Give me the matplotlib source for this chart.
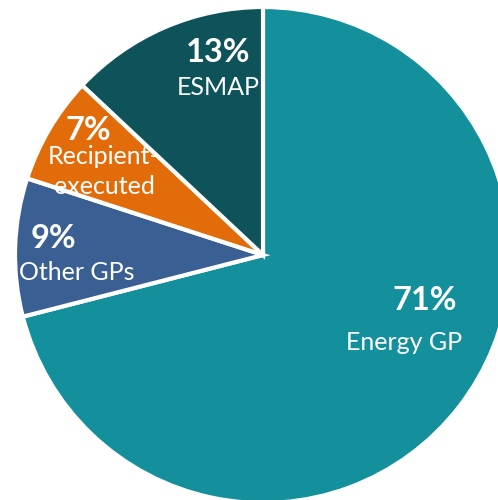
import matplotlib
matplotlib.use('Agg')
import matplotlib.pyplot as plt

# funding sources, clockwise from 12 o'clock
sources = ['Energy GP', 'Other GPs', 'Recipient-\nexecuted', 'ESMAP']
shares = [71, 9, 7, 13]
colors = ['#13909B', '#3A5F92', '#E36C0A', '#0E525A']

# label anchors (pixel coords of the 498x500 canvas, y from top)
pct_xy = [(425, 310), (53, 248), (88, 140), (218, 62)]
name_xy = [(404, 350), (77, 280), (104, 164), (218, 95)]

plt.rcParams['font.family'] = ['Lato', 'DejaVu Sans']

W, H = 498, 500
fig = plt.figure(figsize=(W / 100, H / 100), dpi=100)
ax = fig.add_axes([0, 0, 1, 1])

ax.pie(shares, colors=colors, startangle=90, counterclock=False,
       radius=248, center=(263, H - 255),
       wedgeprops=dict(edgecolor='white', linewidth=3))
ax.set_xlim(0, W)
ax.set_ylim(0, H)
ax.set_aspect('equal')
ax.set_axis_off()

for share, name, (px, py), (nx, ny) in zip(shares, sources, pct_xy, name_xy):
    ax.text(px, H - py, f'{share}%', color='white', fontsize=23.5,
            fontweight='bold', ha='center', va='baseline')
    lines = name.split('\n')
    for i, line in enumerate(lines):
        ax.text(nx, H - ny - i * 30, line, color='white', fontsize=18,
                ha='center', va='baseline')

fig.savefig('out.png', dpi=100)
